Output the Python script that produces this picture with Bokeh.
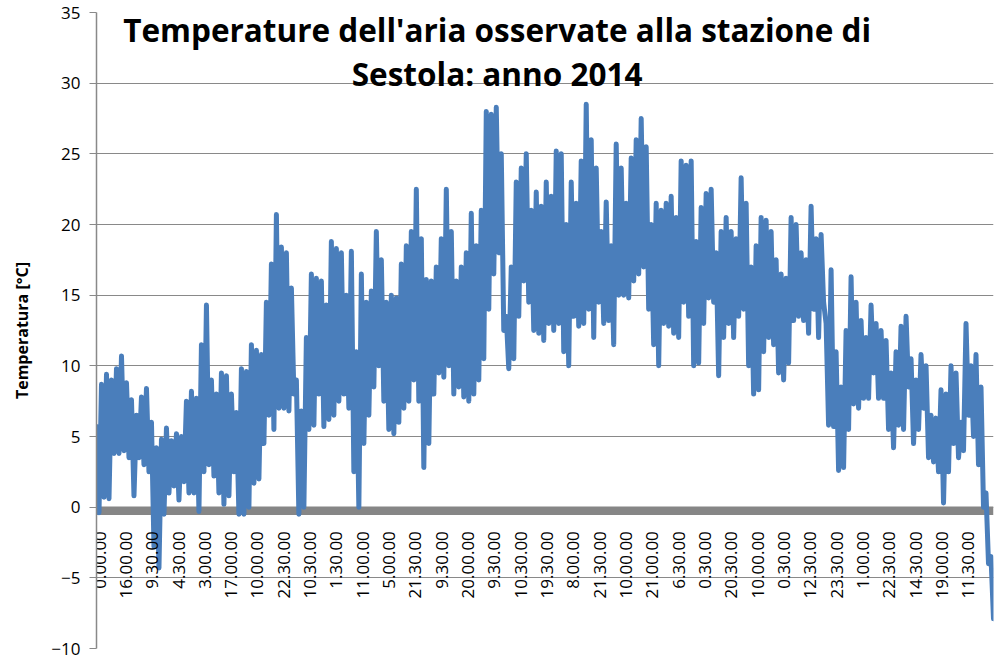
import numpy as np
from bokeh.plotting import figure
from bokeh.models import Range1d, FixedTicker, Label, BoxAnnotation
from bokeh.core.properties import value
from bokeh.embed import file_html
from bokeh.resources import INLINE

# Category labels shown on the time axis (every Nth half-hour timestamp)
time_labels = ["0.00.00", "16.00.00", "9.30.00", "4.30.00", "3.00.00", "17.00.00",
               "10.00.00", "22.30.00", "10.30.00", "1.30.00", "11.00.00", "5.00.00",
               "21.30.00", "9.30.00", "20.00.00", "9.30.00", "10.30.00", "19.30.00",
               "8.00.00", "21.30.00", "10.00.00", "21.00.00", "6.30.00", "0.30.00",
               "20.30.00", "10.00.00", "0.30.00", "12.30.00", "23.30.00", "1.00.00",
               "22.30.00", "14.30.00", "19.00.00", "11.30.00"]

# Temperature peaks and troughs read along the year (°C)
temp_high = [5.7, 8.7, 9.4, 9.0, 9.8, 10.7, 8.8, 7.6, 6.5, 7.8,
             8.4, 6.0, 4.2, 4.8, 5.6, 4.7, 5.2, 5.0, 7.5, 8.2,
             7.7, 11.5, 14.3, 9.0, 8.0, 9.5, 9.3, 8.0, 6.7, 9.8,
             9.6, 11.5, 11.1, 10.8, 14.5, 17.2, 20.7, 18.4, 18.0, 15.5,
             9.0, 6.8, 12.0, 16.5, 16.2, 16.0, 14.3, 18.8, 18.3, 18.0,
             15.0, 18.1, 11.0, 16.5, 14.5, 15.3, 19.5, 17.5, 14.5, 15.0,
             14.8, 17.2, 18.5, 19.5, 22.5, 19.0, 16.1, 16.0, 17.0, 19.0,
             22.5, 19.5, 16.0, 17.0, 18.0, 20.8, 18.5, 21.0, 28.0, 27.8,
             28.3, 25.0, 13.5, 17.0, 23.0, 24.0, 25.0, 21.0, 22.3, 21.3,
             23.0, 22.0, 25.2, 25.0, 20.0, 23.0, 21.5, 24.5, 28.5, 26.0,
             24.0, 19.5, 21.6, 18.5, 25.7, 24.0, 21.5, 24.7, 26.0, 27.5,
             25.5, 20.0, 21.5, 21.0, 21.5, 22.0, 20.5, 24.5, 24.2, 24.5,
             18.8, 21.2, 22.2, 22.5, 18.0, 19.5, 20.5, 19.5, 19.0, 23.3,
             21.5, 17.0, 18.5, 20.5, 20.3, 19.5, 17.5, 16.5, 16.2, 20.5,
             20.0, 18.0, 17.5, 21.3, 19.0, 19.3, 13.0, 16.8, 11.0, 8.5,
             12.5, 16.3, 14.5, 13.2, 12.0, 14.3, 13.0, 12.5, 11.8, 9.5,
             11.0, 12.8, 13.5, 10.5, 9.0, 10.8, 10.0, 6.5, 6.3, 8.3,
             8.0, 10.0, 9.5, 6.0, 13.0, 10.0, 10.8, 8.5, 1.0, -3.5]
temp_low = [-0.4, 0.7, 0.6, 3.8, 3.8, 4.0, 3.5, 0.8, 3.5, 3.0,
            2.5, -2.8, -4.3, -0.5, 1.0, 1.5, 0.5, 1.8, 1.0, 1.0,
            -0.3, 2.5, 3.0, 2.2, 1.0, 0.2, 0.8, 2.5, -0.5, -0.5,
            0.0, 1.7, 2.0, 4.5, 6.5, 5.5, 7.0, 7.0, 6.8, 8.0,
            -0.5, 0.0, 5.5, 5.8, 8.0, 5.7, 6.2, 6.5, 7.5, 8.0,
            7.0, 2.5, 0.0, 4.5, 6.5, 8.5, 10.0, 7.5, 5.5, 5.2,
            6.0, 7.0, 7.5, 9.0, 7.5, 2.8, 4.5, 8.0, 9.5, 9.2,
            10.0, 8.0, 8.5, 7.8, 7.5, 8.0, 9.0, 10.5, 14.0, 16.5,
            18.0, 12.5, 9.8, 10.5, 13.5, 16.0, 14.5, 12.5, 12.3, 11.8,
            13.0, 12.5, 13.0, 11.0, 10.0, 13.5, 12.8, 13.0, 14.0, 12.0,
            14.5, 13.0, 13.2, 11.5, 15.0, 15.0, 14.8, 16.0, 16.5, 17.0,
            14.0, 11.5, 10.0, 13.0, 12.8, 12.3, 12.0, 14.5, 13.5, 10.0,
            10.2, 13.0, 14.8, 14.5, 9.3, 12.0, 13.0, 12.0, 13.5, 14.0,
            10.0, 8.0, 8.3, 11.0, 12.0, 11.5, 9.5, 9.0, 10.2, 13.2,
            13.5, 13.2, 12.3, 14.0, 12.0, 14.5, 5.8, 5.7, 2.6, 2.8,
            5.5, 7.3, 7.0, 7.7, 7.7, 9.5, 7.7, 7.7, 5.5, 4.2,
            5.8, 5.5, 8.5, 4.5, 5.5, 7.0, 3.5, 3.2, 2.5, 0.3,
            2.5, 4.5, 3.5, 4.0, 6.5, 5.0, 3.0, 0.0, -4.0, -7.9]

title_lines = ["Temperature dell'aria osservate alla stazione di", "Sestola: anno 2014"]
y_title = "Temperatura [°C]"

# series: alternating high / low readings along the year
temps = np.ravel(np.column_stack([temp_high, temp_low]))
N = len(temps)
X0, X1 = -0.114, 33.95          # year span in label-interval units
xs = np.linspace(X0, X1, N)

FONT = "Open Sans"
GRID = "#898989"

p = figure(width=1000, height=660, output_backend="svg", toolbar_location=None,
           x_range=Range1d(X0, X1), y_range=Range1d(-10, 35),
           x_axis_location=None,
           min_border_left=96, min_border_right=7, min_border_top=12, min_border_bottom=12)
p.outline_line_color = None
p.background_fill_color = "white"
p.border_fill_color = "white"

ticks = list(range(-10, 36, 5))
p.yaxis.ticker = FixedTicker(ticks=ticks)
p.ygrid.ticker = FixedTicker(ticks=ticks)
p.xgrid.visible = False
p.ygrid.grid_line_color = GRID
p.ygrid.grid_line_width = 1.2

ax = p.yaxis[0]
ax.axis_line_color = GRID
ax.axis_line_width = 1.5
ax.major_tick_line_color = GRID
ax.major_tick_line_width = 1.2
ax.major_tick_out = 7
ax.major_tick_in = 0
ax.minor_tick_line_color = None
ax.major_label_text_font = FONT
ax.major_label_text_font_size = "17px"
ax.major_label_text_color = "black"
ax.major_label_standoff = 9
ax.axis_label = y_title
ax.axis_label_text_font = FONT
ax.axis_label_text_font_size = "16px"
ax.axis_label_text_font_style = "bold"
ax.axis_label_text_color = "black"
ax.axis_label_standoff = 15

band = BoxAnnotation(bottom=-0.55, top=0.05, fill_color="#868686", fill_alpha=1.0,
                     line_color=None, level="underlay")
p.add_layout(band)

p.line(xs, temps, line_color="#4a7ebb", line_width=5, line_join="round", line_cap="round")

p.text(x=list(range(len(time_labels))), y=[0] * len(time_labels), text=time_labels,
       angle=np.pi / 2, text_align="right", text_baseline="middle",
       y_offset=24, text_font=value(FONT), text_font_size="17px", text_color="black")

for i, line in enumerate(title_lines):
    p.add_layout(Label(x=15.1, y=[33.8, 30.65][i], text=line, text_align="center",
                       text_baseline="alphabetic", text_font=FONT, text_font_size="31.5px",
                       text_font_style="bold", text_color="black"))

open("out.html", "w").write(file_html(p, INLINE))
